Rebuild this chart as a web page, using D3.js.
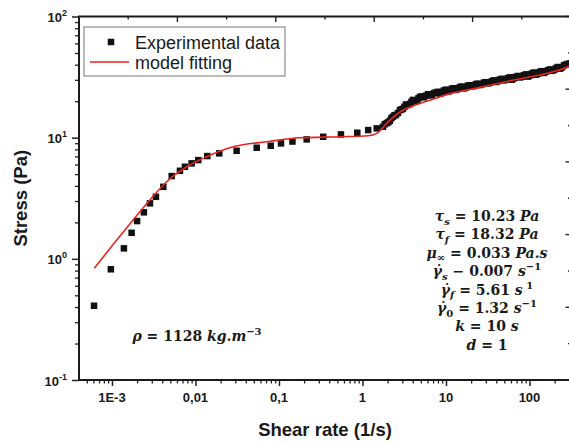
<!DOCTYPE html>
<html>
<head>
<meta charset="utf-8">
<script src="https://cdn.jsdelivr.net/npm/d3@7"></script>
<style>
  html, body { margin: 0; padding: 0; background: #ffffff; }
  svg { display: block; }
  text { white-space: pre; }
</style>
</head>
<body>
<script>
// ---------------- DATA ----------------
// Experimental data: shear rate (1/s)
const expX = [6.1e-4, 9.7e-4, 1.39e-3, 1.72e-3, 2.0e-3, 2.41e-3, 2.85e-3, 3.36e-3, 4.12e-3,
  5.19e-3, 6.52e-3, 7.48e-3, 9.0e-3, 0.0108, 0.01385, 0.01928, 0.0311, 0.0541, 0.0796,
  0.1057, 0.145, 0.2146, 0.339, 0.552, 0.866, 1.17, 1.48,
  1.76, 1.95, 2.13, 2.32, 2.52, 2.81, 3.05, 3.32, 3.71, 4.02, 4.49, 4.88, 5.45, 6.09, 6.80,
  7.59, 8.48, 9.46, 10.6, 11.8, 13.2, 14.7, 16.4, 18.3, 20.5, 22.9, 25.5, 28.5, 31.8, 35.6,
  39.7, 44.3, 49.5, 55.3, 61.7, 68.9, 76.9, 85.9, 95.9, 107, 120, 134, 149, 167, 186, 208,
  232, 259, 289,
  1.85, 2.04, 2.22, 2.42, 2.66, 2.93, 3.18, 3.51, 3.86, 4.25, 4.68, 5.16, 5.76, 6.44, 7.18,
  8.02, 8.96, 10.0, 11.2, 12.5, 13.9, 15.5, 17.3, 19.4, 21.7, 24.2, 27.0, 30.1, 33.6, 37.6,
  41.9, 46.8, 52.3, 58.4, 65.2, 72.8, 81.3, 90.8, 101, 113, 127, 141, 158, 176, 197, 220,
  245, 274, 305];
// Experimental data: stress (Pa)
const expY = [0.41, 0.82, 1.22, 1.64, 2.05, 2.42, 2.87, 3.25, 3.93,
  4.82, 5.33, 5.75, 6.14, 6.53, 7.05, 7.42, 7.80, 8.26, 8.58,
  8.97, 9.29, 9.68, 10.17, 10.64, 10.98, 11.55, 11.93,
  12.3, 13.2, 13.8, 14.9, 15.4, 16.9, 17.3, 18.8, 19.0, 20.5, 20.3, 21.7, 21.5, 22.8, 22.3,
  23.6, 23.1, 24.5, 24.0, 25.4, 24.8, 26.2, 25.5, 26.9, 26.5, 27.7, 27.2, 28.5, 28.0, 29.3,
  28.8, 30.2, 29.7, 31.0, 30.1, 31.8, 31.4, 32.8, 31.9, 33.9, 33.1, 35.0, 34.2, 36.0, 35.7,
  37.6, 37.1, 39.5, 40.6,
  12.9, 13.4, 14.5, 15.3, 16.0, 17.1, 18.0, 18.6, 19.8, 20.0, 21.1, 21.9, 22.2, 22.7, 23.3,
  23.9, 23.8, 24.9, 24.6, 25.6, 25.3, 26.4, 26.0, 27.1, 26.8, 27.9, 27.6, 28.7, 28.4, 29.7,
  29.3, 30.6, 30.2, 31.5, 30.9, 32.3, 31.8, 33.3, 32.6, 34.5, 33.8, 35.4, 35.1, 36.6, 36.2,
  38.3, 38.0, 40.2, 41.0];
// Model fitting curve
const modelX = [6.14e-4, 1.247e-3, 2.85e-3, 4.52e-3, 7.85e-3, 0.0136, 0.0284, 0.0712, 0.178,
  0.538, 1.17, 1.48, 2.13, 3.08, 4.46, 6.43, 11.5, 25.5, 64.0, 133.6, 211.8, 314];
const modelY = [0.835, 1.54, 3.06, 4.33, 5.75, 6.96, 8.41, 9.25, 9.98,
  10.17, 10.37, 10.84, 13.97, 16.9, 18.8, 20.4, 23.2, 26.0, 29.9, 32.9, 35.6, 39.4];

// Axes
const xDomain = [4.03e-4, 314];
const yDomain = [0.1, 100];
const xMajor = [1e-3, 1e-2, 1e-1, 1, 10, 100];
const xMajorLabels = ["1E-3", "0,01", "0,1", "1", "10", "100"];
const yMajor = [0.1, 1, 10, 100];
const yMajorExp = ["-1", "0", "1", "2"];
const seriesNames = ["Experimental data", "model fitting"];

// Parameter annotations (segments: t text, i italic, sub, sup)
const paramLines = [
  [{t:"τ", i:1}, {t:"s", i:1, sub:1}, {t:" = 10.23 "}, {t:"Pa", i:1}],
  [{t:"τ", i:1}, {t:"f", i:1, sub:1}, {t:" = 18.32 "}, {t:"Pa", i:1}],
  [{t:"μ", i:1}, {t:"∞", sub:1}, {t:" = 0.033 "}, {t:"Pa.s", i:1}],
  [{t:"γ̇", i:1}, {t:"s", i:1, sub:1}, {t:" − 0.007 "}, {t:"s", i:1}, {t:"−1", sup:1}],
  [{t:"γ̇", i:1}, {t:"f", i:1, sub:1}, {t:" = 5.61 "}, {t:"s", i:1}, {t:" 1", sup:1}],
  [{t:"γ̇", i:1}, {t:"0", sub:1}, {t:" = 1.32 "}, {t:"s", i:1}, {t:"−1", sup:1}],
  [{t:"k", i:1}, {t:" = 10 "}, {t:"s", i:1}],
  [{t:"d", i:1}, {t:" = 1"}]
];
const rhoLine = [{t:"ρ", i:1}, {t:" = 1128 "}, {t:"kg.m", i:1}, {t:"−3", sup:1}];

// ---------------- DRAW ----------------
const W = 569, H = 443;
const L = 79, R = 571, T = 16.5, B = 380;
const sans = "'Liberation Sans', Arial, Helvetica, sans-serif";
const serif = "'DejaVu Serif', 'Liberation Serif', serif";

const svg = d3.select("body").append("svg").attr("width", W).attr("height", H);
svg.append("rect").attr("width", W).attr("height", H).attr("fill", "#ffffff");

const x = d3.scaleLog().domain(xDomain).range([L, R]);
const y = d3.scaleLog().domain(yDomain).range([B, T]);

svg.append("defs").append("clipPath").attr("id", "clip")
  .append("rect").attr("x", L).attr("y", T).attr("width", R - L).attr("height", B - T);

// bottom axis ticks
const xMinor = x.ticks().filter(v => !xMajor.some(m => Math.abs(Math.log10(v) - Math.log10(m)) < 1e-6));
svg.append("g").attr("transform", `translate(0,${B})`)
  .call(d3.axisBottom(x).tickValues(xMajor).tickSize(6).tickFormat(""))
  .call(g => g.select(".domain").remove())
  .call(g => g.selectAll("line").attr("stroke", "#222").attr("stroke-width", 1.5));
svg.append("g").attr("transform", `translate(0,${B})`)
  .call(d3.axisBottom(x).tickValues(xMinor).tickSize(3.5).tickFormat(""))
  .call(g => g.select(".domain").remove())
  .call(g => g.selectAll("line").attr("stroke", "#222").attr("stroke-width", 1.3));
svg.append("g").selectAll("text").data(xMajor).join("text")
  .attr("x", d => x(d)).attr("y", 402).attr("text-anchor", "middle")
  .attr("font-family", sans).attr("font-weight", "bold").attr("font-size", 13).attr("fill", "#1a1a1a")
  .text((d, i) => xMajorLabels[i]);

// left axis ticks
const yMinor = y.ticks().filter(v => !yMajor.some(m => Math.abs(Math.log10(v) - Math.log10(m)) < 1e-6));
svg.append("g").attr("transform", `translate(${L},0)`)
  .call(d3.axisLeft(y).tickValues(yMajor).tickSize(7).tickFormat(""))
  .call(g => g.select(".domain").remove())
  .call(g => g.selectAll("line").attr("stroke", "#222").attr("stroke-width", 1.5));
svg.append("g").attr("transform", `translate(${L},0)`)
  .call(d3.axisLeft(y).tickValues(yMinor).tickSize(4).tickFormat(""))
  .call(g => g.select(".domain").remove())
  .call(g => g.selectAll("line").attr("stroke", "#222").attr("stroke-width", 1.3));
const yl = svg.append("g").selectAll("text").data(yMajor).join("text")
  .attr("x", 67).attr("y", d => y(d) + 5.5).attr("text-anchor", "end")
  .attr("font-family", sans).attr("font-weight", "bold").attr("font-size", 13).attr("fill", "#1a1a1a");
yl.append("tspan").text("10");
yl.append("tspan").attr("dy", -6).attr("font-size", 9).text((d, i) => yMajorExp[i]);

// top & right auxiliary linear ticks (pointing inward)
const topS = d3.scaleLinear().domain([0, 10]).range([L, R]);
const rightS = d3.scaleLinear().domain([0, 10]).range([B, T]);
svg.append("g").selectAll("line").data(topS.ticks(10)).join("line")
  .attr("x1", d => topS(d)).attr("x2", d => topS(d))
  .attr("y1", T).attr("y2", d => T + (d % 2 === 0 ? 5.5 : 3))
  .attr("stroke", "#222").attr("stroke-width", 1.4);
svg.append("g").selectAll("line").data(rightS.ticks(10)).join("line")
  .attr("y1", d => rightS(d)).attr("y2", d => rightS(d))
  .attr("x1", R).attr("x2", d => R - (d % 2 === 0 ? 5.5 : 3))
  .attr("stroke", "#222").attr("stroke-width", 1.4);

// frame
svg.append("rect").attr("x", L).attr("y", T).attr("width", R - L).attr("height", B - T)
  .attr("fill", "none").attr("stroke", "#1a1a1a").attr("stroke-width", 2);

// data
const plot = svg.append("g").attr("clip-path", "url(#clip)");
const S = 6.5;
plot.selectAll("rect.pt").data(expX.map((v, i) => [v, expY[i]])).join("rect")
  .attr("class", "pt")
  .attr("x", d => x(d[0]) - S / 2).attr("y", d => y(d[1]) - S / 2)
  .attr("width", S).attr("height", S).attr("fill", "#111");

const line = d3.line().x(d => x(d[0])).y(d => y(d[1])).curve(d3.curveMonotoneX);
plot.append("path").datum(modelX.map((v, i) => [v, modelY[i]]))
  .attr("d", line).attr("fill", "none").attr("stroke", "#e8231f").attr("stroke-width", 1.6);

// axis titles
svg.append("text").attr("x", (L + R) / 2).attr("y", 436).attr("text-anchor", "middle")
  .attr("font-family", sans).attr("font-weight", "bold").attr("font-size", 18.5).attr("fill", "#1a1a1a")
  .text("Shear rate (1/s)");
svg.append("text").attr("transform", `translate(27,${(T + B) / 2}) rotate(-90)`).attr("text-anchor", "middle")
  .attr("font-family", sans).attr("font-weight", "bold").attr("font-size", 18.5).attr("fill", "#1a1a1a")
  .text("Stress (Pa)");

// legend
const lg = svg.append("g");
lg.append("rect").attr("x", 84).attr("y", 27).attr("width", 201).attr("height", 49)
  .attr("fill", "#ffffff").attr("stroke", "#777").attr("stroke-width", 1);
lg.append("rect").attr("x", 111 - S / 2).attr("y", 42 - S / 2).attr("width", S).attr("height", S).attr("fill", "#111");
lg.append("line").attr("x1", 90).attr("x2", 129).attr("y1", 62).attr("y2", 62)
  .attr("stroke", "#e8231f").attr("stroke-width", 1.4);
lg.selectAll("text").data(seriesNames).join("text")
  .attr("x", 135).attr("y", (d, i) => 48.5 + i * 20)
  .attr("font-family", sans).attr("font-size", 18).attr("fill", "#1a1a1a").text(d => d);

// rich text helper
function rich(xp, yp, segs, anchor) {
  const t = svg.append("text").attr("x", xp).attr("y", yp).attr("text-anchor", anchor)
    .attr("font-family", serif).attr("font-weight", "bold").attr("font-size", 14).attr("fill", "#1a1a1a");
  let cur = 0;
  segs.forEach(s => {
    const shift = s.sub ? 3.5 : (s.sup ? -6 : 0);
    t.append("tspan").attr("dy", shift - cur)
      .attr("font-size", (s.sub || s.sup) ? 10 : 14)
      .attr("font-style", s.i ? "italic" : "normal")
      .text(s.t);
    cur = shift;
  });
}
paramLines.forEach((segs, i) => rich(487, 221 + i * 18.4, segs, "middle"));
rich(197, 341, rhoLine, "middle");
</script>
</body>
</html>
